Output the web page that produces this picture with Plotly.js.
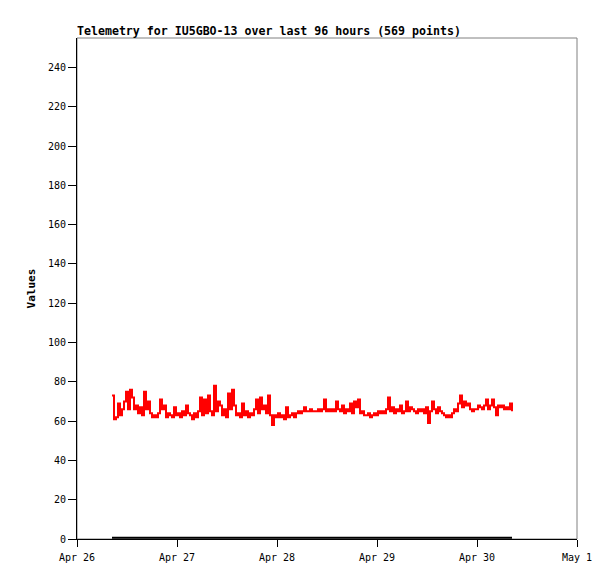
<!DOCTYPE html>
<html>
<head>
<meta charset="utf-8">
<script src="https://cdn.plot.ly/plotly-3.0.1.min.js"></script>
<style>html,body{margin:0;padding:0;background:#fff;}#chart{width:615px;height:579px;}</style>
</head>
<body>
<div id="chart"></div>
<script>
// Series start time and sample spacing (minutes) for the telemetry values
var startTime = "2024-04-26T08:24:00";
var stepMinutes = 28.8;

// Telemetry values
var telemetryValues = [
73,61,62,69,63,66,70,75,66,76,72,66,68,64,67,63,75,66,70,64,
62,63,62,64,71,66,68,62,64,63,62,67,63,64,62,65,63,68,64,63,
61,64,62,65,72,63,71,64,73,65,63,78,65,70,68,63,66,62,74,66,
76,68,63,64,62,69,63,65,62,64,63,66,71,64,72,66,68,64,73,63,
58,63,62,64,62,63,61,67,62,63,64,62,64,65,64,65,67,65,65,66,
65,65,65,66,65,66,71,65,66,65,66,65,70,66,65,68,64,66,65,69,
64,70,67,71,64,65,63,63,64,62,63,64,63,65,64,65,64,66,72,65,
67,64,66,65,68,64,65,70,65,67,66,65,64,66,65,66,64,67,59,65,
70,66,64,67,65,64,63,62,63,62,64,66,65,69,73,67,70,68,69,66,
65,66,66,68,67,66,68,71,66,68,71,67,63,68,67,68,66,67,66,69,
65
];

// Second (near-zero) series
var zeroTimes = ["2024-04-26 08:24","2024-04-27 08:24","2024-04-28 08:24","2024-04-29 08:24","2024-04-30 08:24"];
var zeroValues = [0.6,0.6,0.6,0.6,0.6];

// Axis ticks
var yTicks = [0,20,40,60,80,100,120,140,160,180,200,220,240];
var xRange = ["2024-04-26 00:00","2024-05-01 00:00"];

function pad(n){return (n<10?"0":"")+n;}
function fmt(d){return d.getFullYear()+"-"+pad(d.getMonth()+1)+"-"+pad(d.getDate())+" "+pad(d.getHours())+":"+pad(d.getMinutes())+":"+pad(d.getSeconds());}
var t0 = new Date(startTime);
var telemetryTimes = telemetryValues.map(function(v,i){return fmt(new Date(t0.getTime()+i*stepMinutes*60000));});

var mono = "DejaVu Sans Mono, Liberation Mono, monospace";

var data = [
  {x: zeroTimes, y: zeroValues, type:"scatter", mode:"lines", line:{color:"#000000", width:2}, hoverinfo:"skip", cliponaxis:false},
  {x: telemetryTimes, y: telemetryValues, type:"scatter", mode:"lines", line:{color:"#ff0000", width:2, shape:"hv"}, hoverinfo:"skip"}
];

var layout = {
  width:615, height:579,
  margin:{l:77, r:38, t:38, b:40, pad:0},
  paper_bgcolor:"#ffffff", plot_bgcolor:"#ffffff",
  showlegend:false,
  title:{text:"<b>Telemetry for IU5GBO-13 over last 96 hours (569 points)</b>", x:77/615, xref:"container", xanchor:"left", y:1-31/579, yref:"container", yanchor:"middle", font:{family:mono, size:11.6, color:"#000"}},
  xaxis:{
    type:"date", range:xRange, dtick:86400000, tick0:"2024-04-26", tickformat:"%b %-d",
    showgrid:false, zeroline:false, showline:true, linecolor:"#000", linewidth:1,
    ticks:"outside", ticklen:7, tickcolor:"#000", tickwidth:1, ticklabelstandoff:2,
    tickfont:{family:mono, size:10, color:"#000"}, fixedrange:true
  },
  yaxis:{
    range:[0,255], tickvals:yTicks, ticktext:yTicks.map(String),
    showgrid:false, zeroline:false, showline:true, linecolor:"#000", linewidth:1,
    ticks:"outside", ticklen:8, tickcolor:"#000", tickwidth:1,
    tickfont:{family:mono, size:10, color:"#000"},
    title:{text:"<b>Values</b>", font:{family:mono, size:11, color:"#000"}, standoff:10},
    fixedrange:true
  },
  shapes:[{type:"rect", xref:"paper", yref:"paper", x0:0, x1:1, y0:0, y1:1, line:{color:"#808080", width:1}, layer:"below"}]
};

Plotly.newPlot("chart", data, layout, {displayModeBar:false, staticPlot:true});
</script>
</body>
</html>
